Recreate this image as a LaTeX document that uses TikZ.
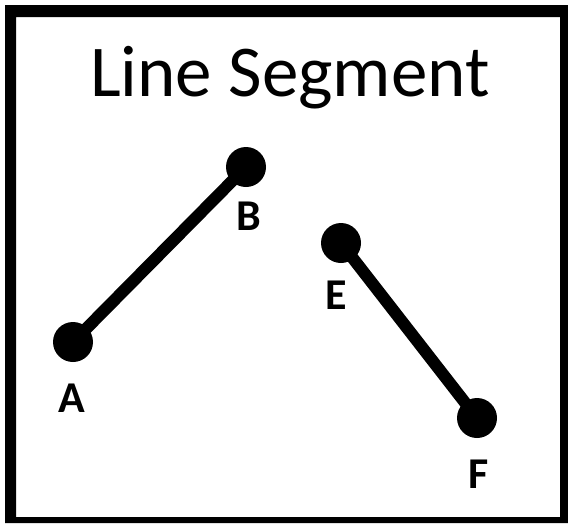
\documentclass[tikz,border=0pt]{standalone}
\usepackage{fontspec}
\setmainfont{Carlito}
\begin{document}
\begin{tikzpicture}[x=1pt,y=-1pt,
  dot/.style={circle,fill=black,inner sep=0pt,minimum size=40pt},
  seg/.style={line width=12pt},
  lbl/.style={font=\fontsize{44}{44}\selectfont\bfseries,anchor=base,inner sep=0pt},
  title/.style={font=\fontsize{73}{73}\selectfont,anchor=base,inner sep=0pt}]
\useasboundingbox (0,0) rectangle (568,523);
\fill[black,even odd rule] (5,5) rectangle (568,523) (16,17) rectangle (560,517);
\node[title] (t) at (290,96) {Line Segment};
\node[dot] (A) at (73,342) {};
\node[dot] (B) at (246,167) {};
\node[dot] (E) at (341,243) {};
\node[dot] (F) at (477,418) {};
\draw[seg] (A.center) -- (B.center);
\draw[seg] (E.center) -- (F.center);
\node[lbl] (la) at (72,412) {A};
\node[lbl] (lb) at (249,230) {B};
\node[lbl] (le) at (336,309) {E};
\node[lbl] (lf) at (479,488) {F};
\end{tikzpicture}
\end{document}
